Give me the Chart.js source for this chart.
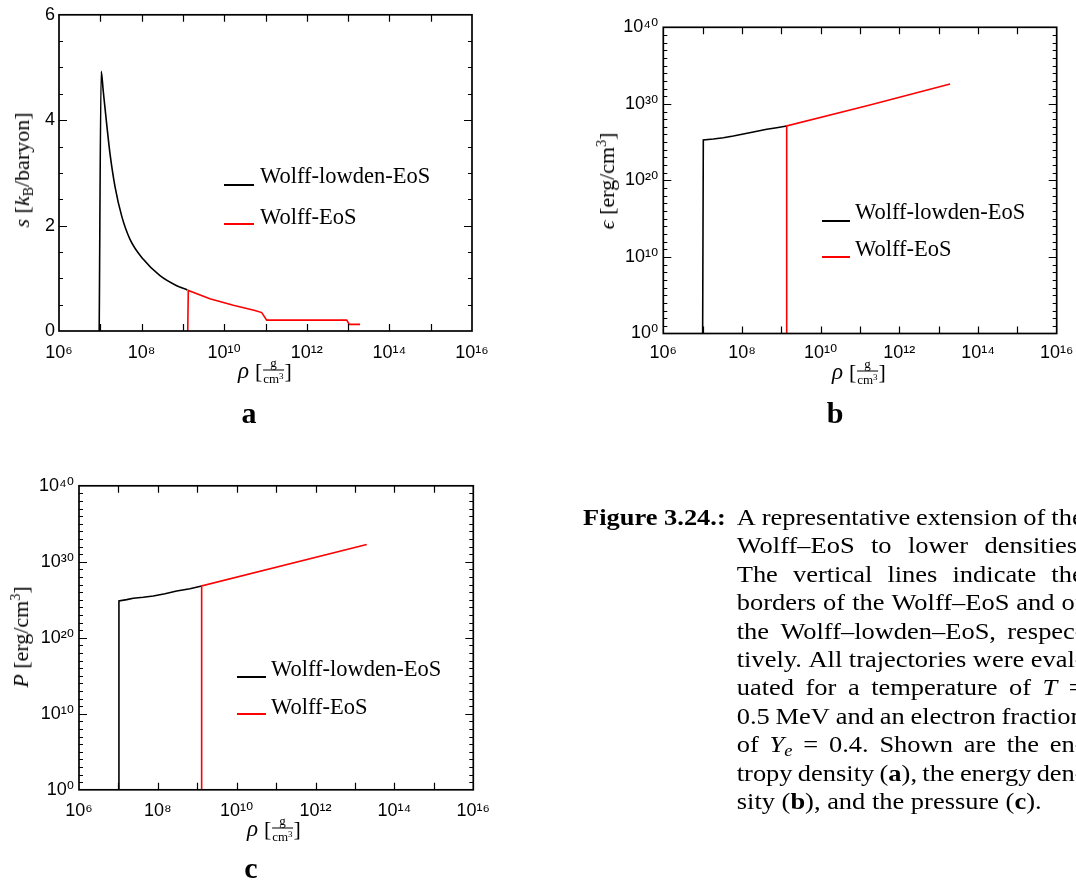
<!DOCTYPE html>
<html>
<head>
<meta charset="utf-8">
<script src="https://cdn.jsdelivr.net/npm/chart.js@4.4.1/dist/chart.umd.min.js"></script>
<style>
html,body{margin:0;padding:0;background:#fff;}
body{width:1076px;height:883px;position:relative;overflow:hidden;font-family:'Liberation Serif','Times New Roman',serif;color:#000;}
canvas{position:absolute;}
.ytitle{position:absolute;transform:translate(-50%,-50%) rotate(-90deg);font-size:22px;line-height:1;white-space:nowrap;}
.ytitle sub{font-size:14px;vertical-align:-4px;line-height:0;}
.ytitle sup{font-size:14px;vertical-align:8px;line-height:0;}
.xtitle{position:absolute;transform:translate(-50%,-50%);display:flex;align-items:center;font-size:23px;line-height:1;white-space:nowrap;}
.xtitle .br{font-size:22px;}
.frac{display:inline-flex;flex-direction:column;align-items:stretch;font-size:13px;line-height:1;margin:0 1px;}
.frac .n{text-align:center;border-bottom:1.3px solid #000;padding:0 1px 1px 1px;}
.frac .d{text-align:center;padding-top:1px;}
.frac sup{font-size:9px;vertical-align:4px;line-height:0;}
.leg-line{position:absolute;height:2px;}
.leg-text{position:absolute;font-size:22.5px;line-height:1;white-space:nowrap;}
.panel{position:absolute;font-weight:bold;font-size:30px;line-height:1;transform:translate(-50%,-50%);}
#caption{position:absolute;left:583px;top:504px;transform:scaleX(1.15);transform-origin:0 0;font-size:23px;line-height:28.4px;}
#caption .fig{position:absolute;left:0;top:0;font-weight:bold;white-space:nowrap;}
#caption .body{position:absolute;left:133.7px;top:0;width:301.7px;}
#caption .jl{display:flex;justify-content:space-between;white-space:nowrap;height:28.4px;}
#caption .last{white-space:nowrap;height:28.4px;}
#caption sub{font-size:16px;vertical-align:-4px;line-height:0;}
</style>
</head>
<body>
<canvas id="chartA" width="500" height="370" style="left:0;top:0;"></canvas>
<canvas id="chartB" width="500" height="370" style="left:600px;top:10px;"></canvas>
<canvas id="chartC" width="500" height="360" style="left:0;top:470px;"></canvas>

<!-- axis titles -->
<div class="ytitle" style="left:22px;top:170px;"><i>s</i> [<i>k</i><sub>B</sub>/baryon]</div>
<div class="xtitle" style="left:265px;top:370px;"><i>ρ</i>&nbsp;<span class="br">[</span><span class="frac"><span class="n">g</span><span class="d">cm<sup>3</sup></span></span><span class="br">]</span></div>

<div class="ytitle" style="left:607px;top:181px;"><i>ϵ</i> [erg/cm<sup>3</sup>]</div>
<div class="xtitle" style="left:859px;top:371px;"><i>ρ</i>&nbsp;<span class="br">[</span><span class="frac"><span class="n">g</span><span class="d">cm<sup>3</sup></span></span><span class="br">]</span></div>

<div class="ytitle" style="left:21px;top:637px;"><i>P</i> [erg/cm<sup>3</sup>]</div>
<div class="xtitle" style="left:274px;top:828px;"><i>ρ</i>&nbsp;<span class="br">[</span><span class="frac"><span class="n">g</span><span class="d">cm<sup>3</sup></span></span><span class="br">]</span></div>

<!-- legends -->
<div class="leg-line" style="left:224px;top:184px;width:30px;background:#000;"></div>
<div class="leg-text" style="left:260px;top:165.2px;">Wolff-lowden-EoS</div>
<div class="leg-line" style="left:224px;top:223px;width:30px;background:#f00;"></div>
<div class="leg-text" style="left:260px;top:205.5px;">Wolff-EoS</div>

<div class="leg-line" style="left:822px;top:220px;width:28px;background:#000;"></div>
<div class="leg-text" style="left:855px;top:200.5px;">Wolff-lowden-EoS</div>
<div class="leg-line" style="left:822px;top:256px;width:28px;background:#f00;"></div>
<div class="leg-text" style="left:855px;top:238.2px;">Wolff-EoS</div>

<div class="leg-line" style="left:237px;top:676px;width:29px;background:#000;"></div>
<div class="leg-text" style="left:271px;top:657.9px;">Wolff-lowden-EoS</div>
<div class="leg-line" style="left:237px;top:713px;width:29px;background:#f00;"></div>
<div class="leg-text" style="left:271px;top:696.2px;">Wolff-EoS</div>

<!-- panel letters -->
<div class="panel" style="left:249px;top:413px;">a</div>
<div class="panel" style="left:835px;top:413px;">b</div>
<div class="panel" style="left:251px;top:868px;">c</div>

<!-- caption -->
<div id="caption">
  <div class="fig">Figure 3.24.:</div>
  <div class="body">
    <div class="jl"><span>A</span><span>representative</span><span>extension</span><span>of</span><span>the</span></div>
    <div class="jl"><span>Wolff–EoS</span><span>to</span><span>lower</span><span>densities.</span></div>
    <div class="jl"><span>The</span><span>vertical</span><span>lines</span><span>indicate</span><span>the</span></div>
    <div class="jl"><span>borders</span><span>of</span><span>the</span><span>Wolff–EoS</span><span>and</span><span>of</span></div>
    <div class="jl"><span>the</span><span>Wolff–lowden–EoS,</span><span>respec-</span></div>
    <div class="jl"><span>tively.</span><span>All</span><span>trajectories</span><span>were</span><span>eval-</span></div>
    <div class="jl"><span>uated</span><span>for</span><span>a</span><span>temperature</span><span>of</span><span><i>T</i></span><span>=</span></div>
    <div class="jl"><span>0.5</span><span>MeV</span><span>and</span><span>an</span><span>electron</span><span>fraction</span></div>
    <div class="jl"><span>of</span><span><i>Y<sub>e</sub></i></span><span>=</span><span>0.4.</span><span>Shown</span><span>are</span><span>the</span><span>en-</span></div>
    <div class="jl"><span>tropy</span><span>density</span><span>(<b>a</b>),</span><span>the</span><span>energy</span><span>den-</span></div>
    <div class="last">sity (<b>b</b>), and the pressure (<b>c</b>).</div>
  </div>
</div>

<script>
// ---------------- data ----------------
// Panel a: entropy per baryon s [kB/baryon] vs density rho [g/cm^3]
const aLowdenRho = [9.4e6, 1.05e7, 1.18e7, 1.43e7, 1.72e7, 2.27e7, 3.30e7, 5.24e7, 1.10e8, 2.79e8, 7.08e8, 1.28e9];
const aLowdenS   = [0,     4.93,   4.55,   3.92,   3.36,   2.74,   2.18,   1.74,   1.36,   1.05,   0.86,   0.78];
const aWolffRho  = [1.31e9, 1.35e9, 4.5e9, 1.66e10, 5.56e10, 8.1e10, 1.07e11, 9.25e12, 1.07e13, 1.95e13];
const aWolffS    = [0,      0.77,   0.61,  0.49,    0.39,    0.35,   0.206,   0.206,   0.125,   0.125];

// Panel b: energy density eps [erg/cm^3]
const bLowdenRho = [1.0e7, 1.04e7, 1.87e7, 3.36e7, 6.03e7, 1.08e8, 1.94e8, 4.26e8, 7.64e8, 1.37e9];
const bLowdenEps = [1,     1.9e25, 2.57e25, 3.8e25, 6.3e25, 1.15e26, 2.1e26, 4.7e26, 7.6e26, 1.29e27];
const bWolffRho  = [1.37e9, 1.37e9, 1.79e11, 1.95e13];
const bWolffEps  = [1,      1.29e27, 7.1e29, 3.9e32];

// Panel c: pressure P [erg/cm^3]
const cLowdenRho = [1.0e7, 1.03e7, 1.62e7, 2.38e7, 4.28e7, 7.66e7, 1.52e8, 3.0e8, 6.53e8, 1.29e9];
const cLowdenP   = [1,     7.1e24, 1.05e25, 1.58e25, 2.14e25, 3.16e25, 6.4e25, 1.45e26, 2.9e26, 6.6e26];
const cWolffRho  = [1.29e9, 1.29e9, 1.98e13];
const cWolffP    = [1,      6.6e26, 1.9e32];

// tick labels
const rhoTickValues = [1e6, 1e8, 1e10, 1e12, 1e14, 1e16];
const rhoTickLabels = ['10⁶', '10⁸', '10¹⁰', '10¹²', '10¹⁴', '10¹⁶'];
const sTickValues = [0, 2, 4, 6];
const sTickLabels = ['0', '2', '4', '6'];
const powTickValues = [1, 1e10, 1e20, 1e30, 1e40];
const powTickLabels = ['10⁰', '10¹⁰', '10²⁰', '10³⁰', '10⁴⁰'];

const seriesNames = ['Wolff-lowden-EoS', 'Wolff-EoS'];

// ---------------- helpers ----------------
const zip = (xs, ys) => xs.map((x, i) => ({x: x, y: ys[i]}));
const FONT = "'Liberation Sans', Arial, 'DejaVu Sans', sans-serif";

// decoration tick positions (inward ticks on all sides)
const xDecades = [];
for (let e = 7; e <= 15; e++) xDecades.push(Math.pow(10, e));
const powMinor = [], powMajor = [];
for (let e = 1; e < 40; e++) { if (e % 10 === 0) powMajor.push(Math.pow(10, e)); else powMinor.push(Math.pow(10, e)); }
const sMinor = [], sMajor = [2, 4];
for (let k = 1; k < 12; k++) { if (k % 4 !== 0) sMinor.push(k * 0.5); }

const boxTicks = {
  id: 'boxTicks',
  afterDraw(chart, args, o) {
    const ctx = chart.ctx, a = chart.chartArea, x = chart.scales.x, y = chart.scales.y;
    ctx.save();
    ctx.strokeStyle = '#000';
    ctx.lineWidth = 1.2;
    ctx.beginPath();
    for (const v of o.xTicks) {
      const p = Math.round(x.getPixelForValue(v)) + 0.5;
      ctx.moveTo(p, a.bottom); ctx.lineTo(p, a.bottom - 7);
      ctx.moveTo(p, a.top); ctx.lineTo(p, a.top + 7);
    }
    const yt = (vals, len) => {
      for (const v of vals) {
        const p = Math.round(y.getPixelForValue(v)) + 0.5;
        ctx.moveTo(a.left, p); ctx.lineTo(a.left + len, p);
        ctx.moveTo(a.right, p); ctx.lineTo(a.right - len, p);
      }
    };
    yt(o.yMinor, 4);
    yt(o.yMajor, 8);
    ctx.stroke();
    ctx.lineWidth = 1.7;
    ctx.strokeRect(a.left, a.top, a.right - a.left, a.bottom - a.top);
    ctx.restore();
  }
};

function rhoAxis(pad, h) {
  return {
    type: 'logarithmic', min: 1e6, max: 1e16,
    afterBuildTicks: s => { s.ticks = rhoTickValues.map(v => ({value: v})); },
    afterFit: s => { s.height = h; },
    grid: {display: false, drawTicks: false}, border: {display: false},
    ticks: {
      autoSkip: false, maxRotation: 0, minRotation: 0, padding: pad, color: '#000',
      font: {family: FONT, size: 18},
      callback: v => { const i = rhoTickValues.indexOf(v); return i >= 0 ? rhoTickLabels[i] : ''; }
    }
  };
}
function yAxis(type, min, max, vals, labels, w, pad) {
  return {
    type: type, min: min, max: max,
    afterBuildTicks: s => { s.ticks = vals.map(v => ({value: v})); },
    afterFit: s => { s.width = w; },
    grid: {display: false, drawTicks: false}, border: {display: false},
    ticks: {
      autoSkip: false, padding: pad, color: '#000',
      font: {family: FONT, size: 18},
      callback: v => { const i = vals.indexOf(v); return i >= 0 ? labels[i] : ''; }
    }
  };
}
function ds(label, data, color, order, smooth) {
  const d = {label: label, data: data, borderColor: color, backgroundColor: color, borderWidth: 1.6,
          showLine: true, pointRadius: 0, pointHoverRadius: 0, fill: false, tension: 0, order: order};
  if (smooth) d.cubicInterpolationMode = 'monotone';
  return d;
}
function makeChart(id, datasets, xScale, yScale, pad, tickOpts) {
  return new Chart(document.getElementById(id), {
    type: 'scatter',
    data: {datasets: datasets},
    options: {
      responsive: false, animation: false, devicePixelRatio: 1,
      layout: {padding: pad},
      scales: {x: xScale, y: yScale},
      plugins: {legend: {display: false}, tooltip: {enabled: false}, boxTicks: tickOpts}
    },
    plugins: [boxTicks]
  });
}

// Panel a
makeChart('chartA',
  [ds(seriesNames[0], zip(aLowdenRho, aLowdenS), '#000000', 1, true),
   ds(seriesNames[1], zip(aWolffRho, aWolffS), '#ff0000', 0, false)],
  rhoAxis(11, 39),
  yAxis('linear', 0, 6, sTickValues, sTickLabels, 59, 4),
  {top: 11, right: 28, left: 0, bottom: 0},
  {xTicks: xDecades, yMinor: sMinor, yMajor: sMajor});

// Panel b
makeChart('chartB',
  [ds(seriesNames[0], zip(bLowdenRho, bLowdenEps), '#000000', 1, false),
   ds(seriesNames[1], zip(bWolffRho, bWolffEps), '#ff0000', 0, false)],
  rhoAxis(8.5, 46.5),
  yAxis('logarithmic', 1, 1e40, powTickValues, powTickLabels, 63.3, 5),
  {top: 17.3, right: 43.3, left: 0, bottom: 0},
  {xTicks: xDecades, yMinor: powMinor, yMajor: powMajor});

// Panel c
makeChart('chartC',
  [ds(seriesNames[0], zip(cLowdenRho, cLowdenP), '#000000', 1, false),
   ds(seriesNames[1], zip(cWolffRho, cWolffP), '#ff0000', 0, false)],
  rhoAxis(10, 40.2),
  yAxis('logarithmic', 1, 1e40, powTickValues, powTickLabels, 79, 5),
  {top: 14.4, right: 26.7, left: 0, bottom: 0},
  {xTicks: xDecades, yMinor: powMinor, yMajor: powMajor});
</script>
</body>
</html>
